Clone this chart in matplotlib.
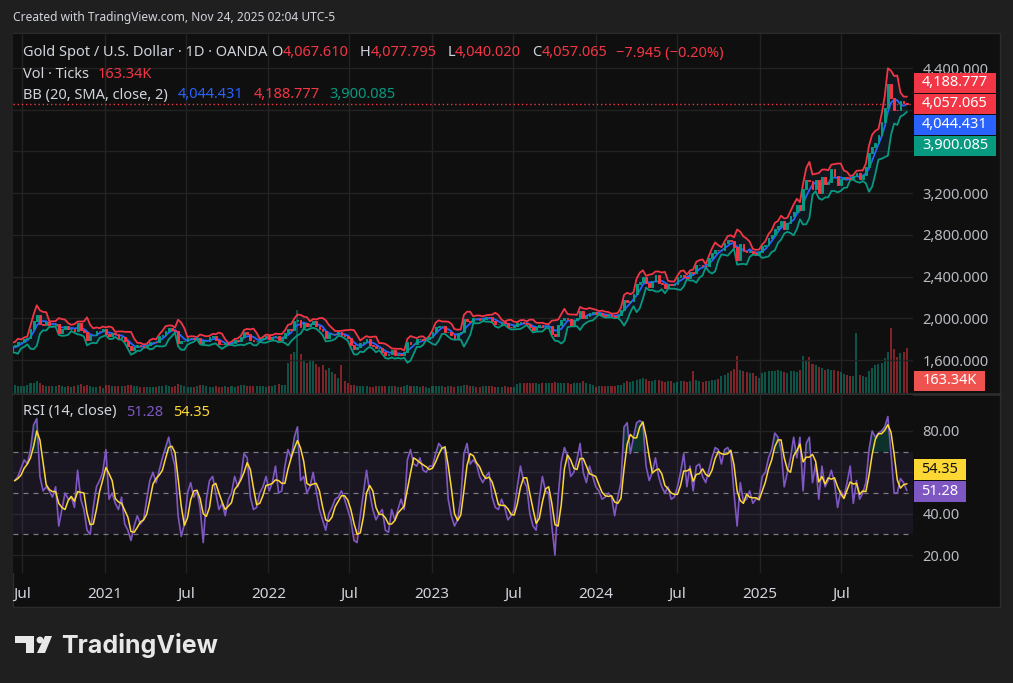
import numpy as np
import pandas as pd
import matplotlib
matplotlib.use("Agg")
import matplotlib.pyplot as plt
from matplotlib.patches import Rectangle, Polygon, Circle

plt.rcParams['font.family'] = ['Noto Sans', 'DejaVu Sans']

W, H = 1013, 683
BG = '#1f1f1f'
PANE = '#0f0f0f'
GRID = '#232323'
TXT = '#d1d4dc'
AXTXT = '#b8bbc2'
RED = '#f23645'
GREEN = '#089981'
BLUE = '#2962ff'
PURPLE = '#7e57c2'
YELLOW = '#fdd835'

# weekly closes, USD/oz (weeks labelled by Monday), first 4 weeks are pre-roll for the bands
close = [1735, 1730, 1685, 1730,
         # 2020
         1743, 1771, 1774,
         1798, 1810, 1902, 1975,
         2035, 1944, 1940, 1964, 1934,
         1940, 1950, 1862, 1900,
         1930, 1899, 1902, 1879,
         1951, 1889, 1872, 1788, 1839,
         1839, 1881, 1877, 1895,
         # 2021
         1850, 1828, 1856, 1848,
         1814, 1824, 1784, 1734,
         1700, 1727, 1745, 1733, 1729,
         1744, 1777, 1777, 1769,
         1831, 1843, 1881, 1903, 1891,
         1877, 1764, 1781, 1783,
         1808, 1812, 1802, 1814,
         1763, 1780, 1781, 1818, 1827,
         1788, 1753, 1750, 1761,
         1757, 1767, 1793, 1783,
         1818, 1865, 1845, 1792, 1783,
         1783, 1798, 1811, 1829,
         # 2022
         1797, 1817, 1835, 1791, 1808,
         1859, 1899, 1889, 1970,
         1988, 1921, 1958, 1925,
         1945, 1975, 1931, 1897,
         1883, 1811, 1846, 1853, 1850,
         1871, 1839, 1826, 1811,
         1742, 1703, 1727, 1766,
         1775, 1802, 1747, 1738, 1712,
         1716, 1675, 1644, 1660,
         1695, 1644, 1657, 1645, 1681,
         1771, 1751, 1755, 1797,
         1797, 1793, 1798, 1824,
         # 2023
         1865, 1920, 1926, 1928, 1865,
         1865, 1842, 1811, 1856,
         1868, 1989, 1978, 1969,
         2007, 2004, 1983, 1990,
         2017, 2011, 1977, 1946, 1948,
         1961, 1958, 1921, 1919,
         1925, 1955, 1961, 1959, 1942,
         1914, 1889, 1915, 1940,
         1919, 1924, 1925, 1849,
         1832, 1932, 1981, 2006, 1992,
         1940, 1981, 2002, 2072,
         2004, 2019, 2053, 2063,
         # 2024
         2045, 2049, 2029, 2018, 2039,
         2024, 2013, 2035, 2083,
         2179, 2155, 2165, 2230,
         2330, 2344, 2392, 2337, 2301,
         2360, 2415, 2334, 2327,
         2294, 2333, 2322, 2326,
         2392, 2411, 2400, 2386, 2443,
         2431, 2507, 2512, 2503,
         2497, 2578, 2622, 2658, 2653,
         2657, 2721, 2747, 2737,
         2685, 2563, 2715, 2650,
         2633, 2648, 2622, 2621, 2640,
         # 2025
         2690, 2702, 2770, 2798,
         2861, 2883, 2936, 2858,
         2910, 2984, 3023, 3084, 3037,
         3237, 3327, 3319, 3240,
         3325, 3202, 3357, 3289,
         3310, 3432, 3368, 3274, 3337,
         3355, 3350, 3337, 3363,
         3398, 3336, 3371, 3448,
         3586, 3643, 3685, 3760, 3886,
         4018, 4250, 4112, 4002,
         4000, 4085, 4066, 4057]

# tick volume, thousands per day (weekly level)
volume_k = [28, 25, 24, 26, 30, 35, 38, 42, 36, 30, 27, 25, 24, 26, 30, 25,
            22, 24, 23, 25, 30, 34, 26, 28, 24, 23, 22, 25, 18,
            # 2021
            30, 28, 25, 24, 25, 26, 27, 30, 28, 24, 25, 23, 22, 21, 22, 23, 22,
            24, 25, 28, 26, 22, 25, 32, 28, 24, 22, 23, 21, 24, 30, 28, 24, 22, 21,
            25, 23, 22, 24, 22, 24, 23, 25, 28, 30, 26, 25, 27, 26, 24, 25, 20,
            # 2022
            25, 27, 28, 32, 30, 30, 110, 140, 150, 300, 140, 120, 110,
            115, 120, 105, 95, 100, 85, 90, 75, 70, 55, 100, 45, 35,
            28, 30, 26, 25, 24, 25, 23, 22, 24, 25, 24, 26, 25,
            26, 24, 23, 22, 25, 28, 26, 24, 25, 23, 24, 22, 18,
            # 2023
            25, 26, 24, 25, 23, 24, 25, 23, 24, 26, 30, 28, 25, 24, 23, 22, 24,
            26, 25, 24, 23, 22, 23, 24, 22, 21, 23, 34, 36, 35, 37, 36, 35, 38, 34,
            36, 35, 37, 38, 40, 38, 37, 36, 35, 34, 36, 35, 38, 42, 36, 34, 28,
            # 2024
            22, 26, 25, 24, 26, 25, 27, 28, 30, 38, 42, 40, 44, 48, 52, 55, 50, 45,
            44, 46, 48, 42, 40, 44, 42, 38, 40, 42, 45, 40, 44, 80, 46, 42, 40,
            42, 44, 46, 48, 50, 60, 66, 72, 80, 88, 134, 84, 78, 75, 74, 72, 62, 55,
            # 2025
            72, 75, 78, 80, 80, 82, 78, 76, 74, 78, 80, 76, 82, 134, 120, 130, 105,
            100, 95, 90, 85, 88, 82, 85, 80, 75, 70, 66, 62, 60, 217, 66, 60, 58,
            80, 90, 100, 105, 110, 125, 150, 235, 160, 130, 145, 150, 163.34]

# RSI(14) read weekly
rsi = [56, 58, 62, 66, 64, 71, 83, 86, 58, 51, 53, 51, 48, 53, 34, 42,
       50, 47, 48, 43, 61, 47, 42, 32, 30, 43, 53, 56, 60,
       # 2021
       71, 47, 50, 45, 42, 48, 35, 32, 27, 34, 39, 35, 37, 47, 56, 60, 55,
       61, 67, 72, 77, 69, 63, 39, 29, 35, 50, 55, 48, 51, 43, 26, 47, 56, 58,
       50, 42, 45, 39, 47, 50, 58, 53, 58, 69, 67, 48, 42, 43, 50, 53, 58,
       # 2022
       51, 55, 63, 50, 51, 63, 71, 67, 77, 82, 56, 58, 50, 53, 60, 51, 42,
       37, 32, 40, 43, 47, 48, 51, 47, 42, 37, 27, 26, 39, 50, 61, 50, 42, 37,
       40, 42, 32, 31, 42, 37, 42, 47, 42, 66, 71, 64, 63, 67, 61, 60, 63,
       # 2023
       63, 69, 74, 72, 71, 47, 39, 34, 37, 47, 69, 74, 64, 66, 64, 58, 55,
       58, 60, 48, 43, 42, 47, 43, 37, 39, 42, 53, 63, 56, 53, 40, 34, 32, 47,
       58, 51, 50, 34, 20, 48, 65, 72, 68, 58, 60, 66, 74, 60, 55, 63, 58,
       # 2024
       53, 51, 47, 48, 50, 48, 39, 48, 55, 82, 84, 69, 77, 84, 85, 84, 63, 56,
       60, 67, 58, 53, 50, 53, 47, 48, 53, 60, 69, 53, 63, 51, 63, 64, 58,
       55, 61, 67, 72, 71, 64, 71, 72, 69, 50, 34, 55, 46, 47, 51, 45, 47, 48,
       # 2025
       58, 60, 67, 71, 79, 77, 71, 53, 60, 67, 77, 67, 77, 51, 74, 77, 55,
       64, 47, 63, 53, 56, 61, 55, 43, 51, 48, 55, 63, 45, 56, 47, 50, 55,
       71, 80, 77, 79, 80, 82, 87, 69, 50, 50, 57, 55, 51.28]

price_ticks = [1600, 2000, 2400, 2800, 3200, 3600, 4000, 4400]
rsi_ticks = [20, 40, 60, 80]
time_ticks = ['2020-07-01', '2021-01-01', '2021-07-01', '2022-01-01', '2022-07-01',
              '2023-01-01', '2023-07-01', '2024-01-01', '2024-07-01', '2025-01-01', '2025-07-01']
time_labels = ['Jul', '2021', 'Jul', '2022', 'Jul', '2023', 'Jul', '2024', 'Jul', '2025', 'Jul']

last_ohlc = ['4,067.610', '4,077.795', '4,040.020', '4,057.065']
last_change = '\u22127.945 (\u22120.20%)'
last_close = 4057.065
bb_last = {'basis': 4044.431, 'upper': 4188.777, 'lower': 3900.085}
vol_last = '163.34K'
rsi_last, rsi_ma_last = 51.28, 54.35

# ---- series
price_dates = pd.date_range(end='2025-11-24', periods=len(close), freq='W-MON')
px = pd.Series(close, index=price_dates, dtype=float)
opn = px.shift(1)
basis = px.rolling(4).mean()
sd = px.rolling(4).std(ddof=1)
upper = basis + 2 * sd
lower = basis - 2 * sd

dates = pd.date_range(end='2025-11-24', periods=len(rsi), freq='W-MON')
rsi_s = pd.Series(rsi, index=dates, dtype=float)
rsi_ma = rsi_s.rolling(3, min_periods=1).mean()
vol = pd.Series(volume_k, index=pd.date_range(end='2025-11-24', periods=len(volume_k), freq='W-MON'))

up = (px >= opn)
xlim = (pd.Timestamp('2020-06-11'), pd.Timestamp('2025-12-08'))

# ---- layout in pixels
L, R = 13, 913
TOP, MID, RTOP, BOT = 34, 393, 395, 573

fig = plt.figure(figsize=(W / 100, H / 100), dpi=100, facecolor=BG)

deco = fig.add_axes([0, 0, 1, 1], zorder=-1)
deco.set_xlim(0, W)
deco.set_ylim(H, 0)
deco.axis('off')
deco.add_patch(Rectangle((13, 33), 987, 574, facecolor=PANE, edgecolor='#2c2c2c', lw=1))
deco.plot([13, 1000], [394, 394], color='#2c2c2c', lw=2)

ax = fig.add_axes([L / W, 1 - MID / H, (R - L) / W, (MID - TOP) / H])
axr = fig.add_axes([L / W, 1 - BOT / H, (R - L) / W, (BOT - RTOP) / H], sharex=ax)

for a in (ax, axr):
    a.set_facecolor(PANE)
    for s in a.spines.values():
        s.set_visible(False)
    for t in pd.to_datetime(time_ticks):
        a.axvline(t, color=GRID, lw=1, zorder=0)

# volume on the base axes
ax.set_ylim(0, 1300)
ax.set_yticks([])
vcol = np.where(up.loc[vol.index].values, GREEN, RED)
ax.bar(vol.index, vol.values, width=4.5, color=vcol, alpha=0.5, lw=0, zorder=1)

# price on a twin axes
axp = ax.twinx()
axp.set_ylim(1284, 4726)
for s in axp.spines.values():
    s.set_visible(False)
for v in price_ticks:
    axp.axhline(v, color=GRID, lw=1, zorder=0)
axp.fill_between(price_dates, lower, upper, color='#1e88e5', alpha=0.07, lw=0, zorder=1)
axp.plot(price_dates, upper, color=RED, lw=1.3, zorder=3)
axp.plot(price_dates, lower, color=GREEN, lw=1.3, zorder=3)
axp.plot(price_dates, basis, color=BLUE, lw=1.3, zorder=3)
body_lo = np.minimum(px.values, opn.values)
body_h = np.abs(px.values - opn.values)
ccol = np.where(up.values, GREEN, RED)
axp.bar(price_dates, body_h, bottom=body_lo, width=4.0, color=ccol, edgecolor=ccol, lw=0.7, zorder=4)
axp.axhline(last_close, color=RED, lw=1, ls=(0, (1, 2)), zorder=5)
axp.set_yticks(price_ticks)
axp.tick_params(axis='y', length=0, pad=7, labelsize=10.5, labelcolor=AXTXT)
ax.tick_params(axis='x', length=0, labelbottom=False)
axp.set_xlim(*xlim)

# RSI pane
axr.set_ylim(11.3, 97.4)
axr.set_xlim(*xlim)
for v in rsi_ticks:
    axr.axhline(v, color=GRID, lw=1, zorder=0)
axr.axhspan(30, 70, color=PURPLE, alpha=0.1, lw=0, zorder=1)
for v in (70, 50, 30):
    axr.axhline(v, color='#787b86', lw=0.9, ls=(0, (4, 4)), zorder=2)
axr.fill_between(dates, 70, rsi_s, where=rsi_s > 70, interpolate=True, color=GREEN, alpha=0.25, lw=0, zorder=2)
axr.fill_between(dates, 30, rsi_s, where=rsi_s < 30, interpolate=True, color=RED, alpha=0.25, lw=0, zorder=2)
axr.plot(dates, rsi_s, color=PURPLE, lw=1.2, zorder=3)
axr.plot(dates, rsi_ma, color=YELLOW, lw=1.1, zorder=4)
axr.yaxis.tick_right()
axr.set_yticks(rsi_ticks)
axr.tick_params(axis='y', length=0, pad=7, labelsize=10.5, labelcolor=AXTXT)
axr.set_xticks(pd.to_datetime(time_ticks))
axr.set_xticklabels(time_labels)
axr.tick_params(axis='x', length=0, pad=10, labelsize=11, labelcolor=TXT)
for lab in axr.get_xticklabels():
    if lab.get_text() != 'Jul':
        lab.set_fontweight('bold')

# ---- overlay for legends and value tags
over = fig.add_axes([0, 0, 1, 1], zorder=10)
over.set_xlim(0, W)
over.set_ylim(H, 0)
over.axis('off')
over.patch.set_alpha(0)

def to_pix(a, v):
    return H - a.transData.transform((0, v))[1]

spans = []

def tag(yc, text, face, tcol='white', x0=914, x1=996, h=20):
    over.add_patch(Rectangle((x0, yc - h / 2), x1 - x0, h, facecolor=face, edgecolor='none'))
    over.text((x0 + x1) / 2, yc, text, color=tcol, fontsize=10.5, va='center', ha='center')
    spans.append((yc - h / 2, yc + h / 2))

y_last = to_pix(axp, last_close)
tag(y_last - 21, f"{bb_last['upper']:,.3f}", RED)
tag(y_last, f'{last_close:,.3f}', RED)
tag(y_last + 21, f"{bb_last['basis']:,.3f}", BLUE)
tag(y_last + 42, f"{bb_last['lower']:,.3f}", GREEN)
tag(MID - 12, vol_last, '#ef5350', x1=985)
y_rsi = to_pix(axr, rsi_last)
tag(y_rsi + 1, f'{rsi_last:.2f}', PURPLE, x1=966, h=21)
tag(y_rsi - 21, f'{rsi_ma_last:.2f}', YELLOW, tcol='#131313', x1=966, h=21)

# scale labels that sit under a tag are hidden by it, as on the reference
def covered(y):
    return any(lo <= y <= hi for lo, hi in spans)

axp.set_yticklabels(['' if covered(to_pix(axp, v)) else f'{v:,.3f}' for v in price_ticks])
axr.set_yticklabels(['' if covered(to_pix(axr, v)) else f'{v:.2f}' for v in rsi_ticks])

renderer = fig.canvas.get_renderer()

def row(y, x0, pieces, size=10.5):
    x = x0
    for txt, col, gap in pieces:
        x += gap
        t = over.text(x, y, txt, color=col, fontsize=size, va='center', ha='left')
        x += t.get_window_extent(renderer=renderer).width

over.text(13, 18, 'Created with TradingView.com, Nov 24, 2025 02:04 UTC-5', color=TXT,
          fontsize=8.6, va='center', ha='left')
row(53, 23, [('Gold Spot / U.S. Dollar \u00b7 1D \u00b7 OANDA', TXT, 0),
             ('O', TXT, 4), (last_ohlc[0], RED, 0),
             ('H', TXT, 11), (last_ohlc[1], RED, 0),
             ('L', TXT, 11), (last_ohlc[2], RED, 0),
             ('C', TXT, 11), (last_ohlc[3], RED, 0),
             (last_change, RED, 9)])
row(74, 23, [('Vol \u00b7 Ticks', TXT, 0), (vol_last, RED, 9)])
row(95, 23, [('BB (20, SMA, close, 2)', TXT, 0),
             (f"{bb_last['basis']:,.3f}", BLUE, 10),
             (f"{bb_last['upper']:,.3f}", RED, 10),
             (f"{bb_last['lower']:,.3f}", GREEN, 10)])
row(412, 23, [('RSI (14, close)', TXT, 0), (f'{rsi_last:.2f}', PURPLE, 10),
              (f'{rsi_ma_last:.2f}', YELLOW, 10)])

# ---- logo
LOGO = '#e8e8e8'
over.add_patch(Polygon([(15, 636), (34, 636), (34, 653), (26, 653), (26, 643), (15, 643)],
                       closed=True, facecolor=LOGO, edgecolor='none'))
over.add_patch(Circle((40, 640), 3.4, facecolor=LOGO, edgecolor='none'))
over.add_patch(Polygon([(45, 636), (52, 636), (45, 653), (37, 653)],
                       closed=True, facecolor=LOGO, edgecolor='none'))
over.text(61, 645, 'TradingView', color=LOGO, fontsize=18, fontweight='bold',
          family=['Inter', 'DejaVu Sans'], va='center', ha='left')

fig.savefig('out.png', dpi=100, facecolor=BG)
